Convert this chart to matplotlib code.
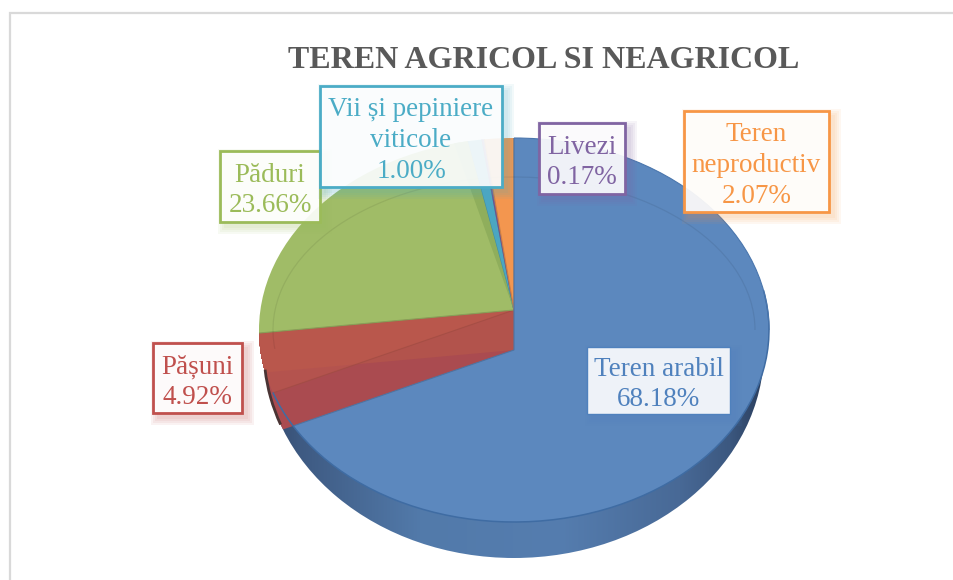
#!/usr/bin/env python3

import matplotlib
matplotlib.use("Agg")
import matplotlib.pyplot as plt
import numpy as np
from matplotlib.colors import to_rgba
from matplotlib.patches import Arc, Ellipse, Rectangle

plt.rcParams["font.family"] = ["Liberation Serif", "DejaVu Serif"]

categories = ["Teren arabil", "Pășuni", "Păduri", "Vii și pepiniere viticole", "Livezi", "Teren neproductiv"]
shares = [68.18, 4.92, 23.66, 1.00, 0.17, 2.07]
label_names = ["Teren arabil", "Pășuni", "Păduri", "Vii și pepiniere\nviticole", "Livezi", "Teren\nneproductiv"]
title = "TEREN AGRICOL SI NEAGRICOL"

face_colors = ["#5C88BE", "#B8564A", "#A0BC67", "#4BA6C2", "#8064A2", "#F3964F"]
text_colors = ["#4F81BD", "#C0504D", "#9BBB59", "#4BACC6", "#8064A2", "#F79646"]
# left, top, right, bottom of the label boxes in pixels
label_boxes = [(587, 347, 730, 414), (153, 343, 242, 413), (220, 151, 320, 222),
               (320, 86, 502, 187), (539, 123, 625, 194), (684, 111, 829, 212)]

W, H = 954, 580
CX, CY, RX, RY = 514, 330, 255, 192

fig = plt.figure(figsize=(W / 100, H / 100), dpi=100)
ax = fig.add_axes([0, 0, 1, 1])


def py(y):
    return (CY - y) / RY


def draw_pie(apex_y, clip, zorder, keep, colors=None, alpha=1.0, edge=True):
    wedges, _ = ax.pie(
        shares,
        colors=colors or face_colors,
        startangle=90,
        counterclock=False,
        center=(0, py(apex_y)),
        radius=1.4,
        wedgeprops={"linewidth": 0.8 if edge else 0, "alpha": alpha},
    )
    for i, w in enumerate(wedges):
        if i not in keep:
            w.remove()
            continue
        w.set_zorder(zorder)
        # pie turns clipping off on its wedges
        w.set_clip_on(True)
        w.set_clip_path(clip)
        if edge:
            w.set_edgecolor(tuple(c * 0.85 for c in to_rgba((colors or face_colors)[i])[:3]))
    return wedges


top_face = Ellipse((0, 0), 2, 2, fill=False, linewidth=0, zorder=0)
ax.add_patch(top_face)
bottom_face = Ellipse((0, py(350)), 2 * 250 / RX, 2 * 208 / RY, fill=False, linewidth=0, zorder=0)
ax.add_patch(bottom_face)

# side wall of the disc, shaded from left to right
stops_x = [259, 300, 420, 560, 680, 730, 769]
stops_r = [50, 62, 82, 85, 72, 60, 40]
stops_g = [70, 90, 122, 125, 105, 88, 58]
stops_b = [105, 130, 170, 175, 150, 128, 88]
xs = np.arange(259, 770)
gradient = np.stack([np.interp(xs, stops_x, s) for s in (stops_r, stops_g, stops_b)], axis=1)[None, :, :] / 255
side = ax.imshow(gradient, extent=((259 - CX) / RX, (769 - CX) / RX, py(560), py(330)), aspect="auto", zorder=1)
side.set_clip_path(bottom_face)

# red slice: the cut wall between the two apexes, upper surface and floor
wall_colors = [face_colors[0], "#B2534C"] + face_colors[2:]
for apex in range(310, 351):
    wall = draw_pie(apex, top_face, 1.5, [1], colors=wall_colors, edge=False)[1]
    wall.set(linewidth=1.5, edgecolor=wall_colors[1])
draw_pie(310, top_face, 2, [1], colors=[face_colors[0], "#B8564A"] + face_colors[2:], edge=False)
draw_pie(350, bottom_face, 3, [1], colors=[face_colors[0], "#AA4B50"] + face_colors[2:], edge=False)
draw_pie(310, top_face, 4, [1], colors=[face_colors[0], "#BA584E"] + face_colors[2:], alpha=0.65)

# the other slices sit on two different apexes, like the 3D view
draw_pie(310, top_face, 5, [2, 3, 4, 5])
blue = draw_pie(350, top_face, 6, [0])

green = draw_pie(310, top_face, 5.5, [2], colors=face_colors[:2] + ["#8FAE5C"] + face_colors[3:], edge=False)[2]
green.set_theta2(green.theta1 + 3.5)

ax.add_patch(Arc((0, 0), 2, 2, theta1=199, theta2=372, color="#3F6CA3", linewidth=1.1, zorder=7))
ax.add_patch(Arc((0, 0), 2, 2, theta1=0, theta2=90, color="#4A76AD", linewidth=0.8, zorder=7))
ax.add_patch(Arc((0, py(350)), 2 * 250 / RX, 2 * 208 / RY, theta1=186, theta2=203,
                 color="#4A3434", linewidth=2.0, zorder=7))
ax.add_patch(Arc((0, 0), 2 * 241 / RX, 2 * 153 / RY, theta1=0, theta2=186,
                 color="#000000", alpha=0.07, linewidth=0.9, zorder=7))

ax.set_aspect("auto")
ax.set_xlim(-CX / RX, (W - CX) / RX)
ax.set_ylim(py(H), py(0))
ax.axis("off")

# overlay in pixel coordinates for the frame, title and labels
ov = fig.add_axes([0, 0, 1, 1], zorder=10)
ov.set_xlim(0, W)
ov.set_ylim(H, 0)
ov.axis("off")

ov.plot([10, 10, W], [H, 13, 13], color="#D9D9D9", linewidth=1.6, solid_joinstyle="miter")
ov.text(544, 61, title, fontsize=23, fontweight="bold", color="#595959", ha="center", va="center")

for i, (name, share, box) in enumerate(zip(label_names, shares, label_boxes)):
    x0, y0, x1, y1 = box
    color = text_colors[i]
    for grow in (8, 6, 4, 2):
        ov.add_patch(Rectangle((x0 + 6 - grow, y0 + 6 - grow), x1 - x0 + 2 * grow - 2, y1 - y0 + 2 * grow - 2,
                               facecolor=to_rgba(color, 0.07), edgecolor="none"))
    ov.add_patch(Rectangle((x0, y0), x1 - x0, y1 - y0, facecolor=to_rgba("#FFFFFF", 0.9), edgecolor=color,
                           linewidth=1.0 if i == 0 else 2.0))
    ov.text((x0 + x1) / 2, (y0 + y1) / 2 + 4, f"{name}\n{share:.2f}%", color=color, fontsize=19.5,
            ha="center", va="center", linespacing=1.3)

fig.savefig("out.png", dpi=100)
